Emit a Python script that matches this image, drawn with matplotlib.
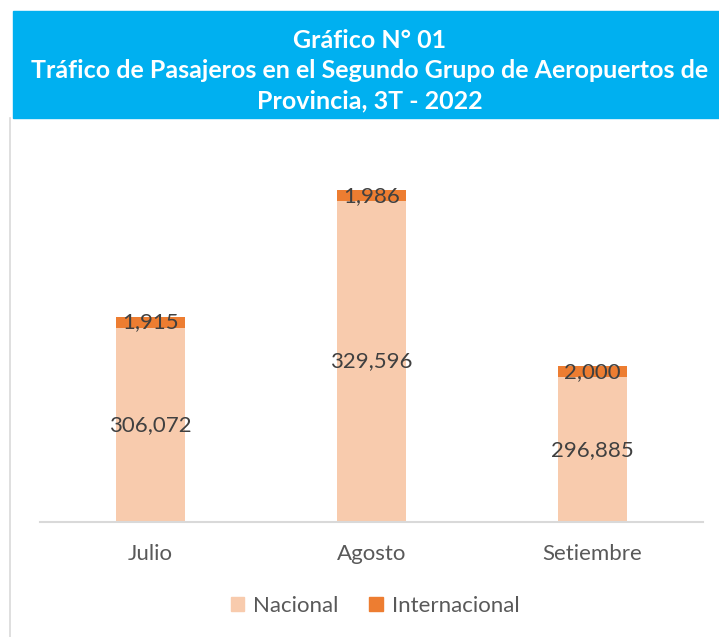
import matplotlib
matplotlib.use("Agg")
import matplotlib.pyplot as plt
from matplotlib.patches import Rectangle, Patch
from matplotlib.lines import Line2D
import numpy as np

meses = ["Julio", "Agosto", "Setiembre"]
nacional = [306072, 329596, 296885]
internacional = [1915, 1986, 2000]

C_NAC = "#F8CBAD"
C_INT = "#ED7D31"
C_TXT = "#404040"
FONT = "Lato"

plt.rcParams["font.family"] = [FONT, "DejaVu Sans"]

W, H = 719, 637
fig = plt.figure(figsize=(W / 100, H / 100), dpi=100)

# title band
fig.patches.append(Rectangle((13 / W, 1 - 118 / H), 1.0, 107 / H,
                             transform=fig.transFigure, color="#00B0F0", zorder=0))
fig.text(370 / W, 1 - 71 / H,
         "Gráfico N° 01\nTráfico de Pasajeros en el Segundo Grupo de Aeropuertos de\nProvincia, 3T - 2022",
         ha="center", va="center", color="white", fontsize=18, fontweight="bold",
         linespacing=1.37)
# left border of the chart area
fig.add_artist(Line2D([10 / W, 10 / W], [0, 1 - 118 / H], transform=fig.transFigure,
                      color="#D9D9D9", lw=1.2))

ax = fig.add_axes([40 / W, 1 - 522 / H, 663 / W, 377 / H])
x = np.arange(len(meses))
ylo, yhi = 270000, 340000
ax.bar(x, nacional, width=0.31, color=C_NAC, zorder=2)
ax.bar(x, internacional, width=0.31, bottom=nacional, color=C_INT, zorder=2)
ax.set_ylim(ylo, yhi)
ax.set_xlim(-0.5, 2.5)

for i in range(len(meses)):
    ax.text(x[i], (ylo + nacional[i]) / 2, f"{nacional[i]:,}", ha="center", va="center",
            fontsize=16, color=C_TXT, zorder=3)
    ax.text(x[i], nacional[i] + internacional[i] / 2, f"{internacional[i]:,}", ha="center",
            va="center", fontsize=16, color=C_TXT, zorder=3)

for s in ["left", "right", "top"]:
    ax.spines[s].set_visible(False)
ax.spines["bottom"].set_color("#D9D9D9")
ax.spines["bottom"].set_linewidth(1.5)
ax.set_yticks([])
ax.set_xticks(x)
ax.set_xticklabels(meses, fontsize=16, color="#595959")
ax.tick_params(axis="x", length=0, pad=16)

handles = [Patch(color=C_NAC, label="Nacional"), Patch(color=C_INT, label="Internacional")]
fig.legend(handles=handles, loc="center", bbox_to_anchor=(375 / W, 1 - 606 / H), ncol=2,
           frameon=False, fontsize=16, handlelength=0.6, handleheight=0.6,
           handletextpad=0.4, columnspacing=1.4, labelcolor="#595959")

fig.savefig("out.png", dpi=100)
